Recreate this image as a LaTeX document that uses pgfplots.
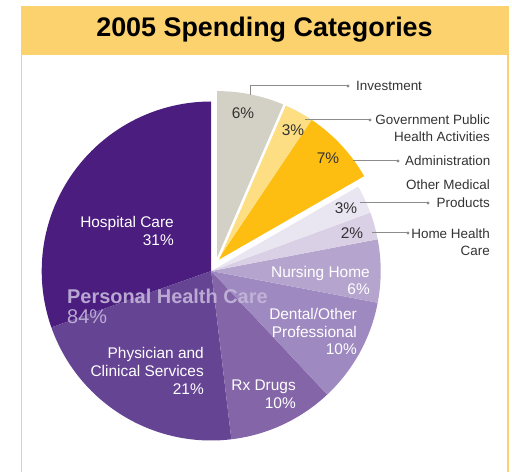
\documentclass[border=0pt]{standalone}
\usepackage{pgfplots}
\pgfplotsset{compat=1.18}
\usepackage{pgfplotstable}
\usepackage{fontspec}
\setmainfont{Liberation Sans}

\definecolor{cTitle}{HTML}{FBD26E}
\definecolor{cHosp}{HTML}{4A1D7E}
\definecolor{cPhys}{HTML}{664494}
\definecolor{cRx}{HTML}{8466A8}
\definecolor{cDent}{HTML}{9F89C1}
\definecolor{cNurs}{HTML}{B5A5CE}
\definecolor{cHome}{HTML}{D9D0E5}
\definecolor{cOther}{HTML}{EAE6F1}
\definecolor{cAdmin}{HTML}{FDBE11}
\definecolor{cGov}{HTML}{FDDE83}
\definecolor{cInv}{HTML}{D3D1C5}
\definecolor{cPHC}{HTML}{C4B6DA}
\definecolor{cLine}{HTML}{8C8C8C}
\definecolor{cDark}{HTML}{333333}

% share of each slice in percent, counter-clockwise from 12 o'clock
\pgfplotstableread{
name value color
Hospital 30.4 cHosp
Physician 21.5 cPhys
RxDrugs 10.1 cRx
Dental 10.0 cDent
Nursing 6.0 cNurs
HomeHealth 2.6 cHome
OtherMedical 2.7 cOther
Administration 7.3 cAdmin
Government 2.9 cGov
Investment 6.5 cInv
}\piedata

\begin{document}
\begin{tikzpicture}
\begin{axis}[
  scale only axis, width=512bp, height=472bp,
  xmin=0, xmax=512, ymin=0, ymax=472,
  hide axis, clip=false,
]
\path (axis cs:0,0) rectangle (axis cs:512,472);
% frame and title bar
\fill[cTitle] (axis cs:20.7,466) rectangle (axis cs:508.5,417);
\draw[cTitle, line width=1.6bp] (axis cs:21.5,417) -- (axis cs:21.5,0);
\draw[cTitle, line width=1.6bp] (axis cs:507.7,417) -- (axis cs:507.7,0);
\node[font=\bfseries\fontsize{27}{30}\selectfont, inner sep=0] at (axis cs:264.5,442) {2005 Spending Categories};

% pie slices
\def\cum{0}
\pgfplotsforeachungrouped \i in {0,...,9}{%
  \pgfplotstablegetelem{\i}{value}\of\piedata \let\v\pgfplotsretval
  \pgfplotstablegetelem{\i}{color}\of\piedata \let\c\pgfplotsretval
  \pgfmathsetmacro\a{90+3.6*\cum}%
  \pgfmathsetmacro\b{90+3.6*(\cum+\v)}%
  \ifnum\i<7
    \def\cx{211.2}\def\cy{201}%
  \else
    \def\cx{217.2}\def\cy{211.4}%
  \fi
  \edef\tmp{\noexpand\fill[\c] (axis cs:\cx,\cy) -- ++(\a:169.5) arc[start angle=\a, end angle=\b, radius=169.5] -- cycle;}%
  \tmp
  \ifnum\i=9
    \edef\tmp{\noexpand\draw[white, line width=2.5bp] (axis cs:\cx,\cy) -- ++(\a:172);}%
    \tmp
  \fi
  \pgfmathsetmacro\cum{\cum+\v}%
}

% labels inside the pie
\begin{scope}[every node/.style={inner sep=0, align=right, font=\fontsize{15.5}{18}\selectfont}]
\node[anchor=east, white] at (axis cs:174,241) {Hospital Care\\31\%};
\node[anchor=east, white] at (axis cs:204,101) {Physician and\\Clinical Services\\21\%};
\node[anchor=east, white] at (axis cs:296,78) {Rx Drugs\\10\%};
\node[anchor=east, white] at (axis cs:357,140.5) {Dental/Other\\Professional\\10\%};
\node[anchor=east, white] at (axis cs:370,191.5) {Nursing Home\\6\%};
\node[cDark] at (axis cs:243,359) {6\%};
\node[cDark] at (axis cs:293,342) {3\%};
\node[cDark] at (axis cs:328,314) {7\%};
\node[cDark] at (axis cs:346,264) {3\%};
\node[cDark] at (axis cs:352,239) {2\%};
\end{scope}
\node[anchor=west, inner sep=0, align=left, text=cPHC, text opacity=0.9, font=\fontsize{20}{20}\selectfont] at (axis cs:67,166) {\textbf{Personal Health Care}\\84\%};

% callouts
\begin{scope}[every node/.style={inner sep=0, align=right, text=cDark, font=\fontsize{13.5}{17.5}\selectfont}]
\draw[cLine, line width=1bp] (axis cs:250,377) -- (axis cs:250,386) -- (axis cs:348,386);
\fill[cLine] (axis cs:348,386) circle[radius=1.7];
\node[anchor=west] at (axis cs:356,386) {Investment};
\draw[cLine, line width=1bp] (axis cs:305,352) -- (axis cs:370,352);
\fill[cLine] (axis cs:370,352) circle[radius=1.7];
\node[anchor=east] at (axis cs:490,344) {Government Public\\Health Activities};
\draw[cLine, line width=1bp] (axis cs:353,311) -- (axis cs:398,311);
\fill[cLine] (axis cs:398,311) circle[radius=1.7];
\node[anchor=west] at (axis cs:405,311) {Administration};
\draw[cLine, line width=1bp] (axis cs:360,269) -- (axis cs:428,269);
\fill[cLine] (axis cs:428,269) circle[radius=1.7];
\node[anchor=east] at (axis cs:490,278.5) {Other Medical\\Products};
\draw[cLine, line width=1bp] (axis cs:372,239) -- (axis cs:408,239);
\fill[cLine] (axis cs:408,239) circle[radius=1.7];
\node[anchor=east] at (axis cs:490,230) {Home Health\\Care};
\end{scope}
\end{axis}
\end{tikzpicture}
\end{document}
